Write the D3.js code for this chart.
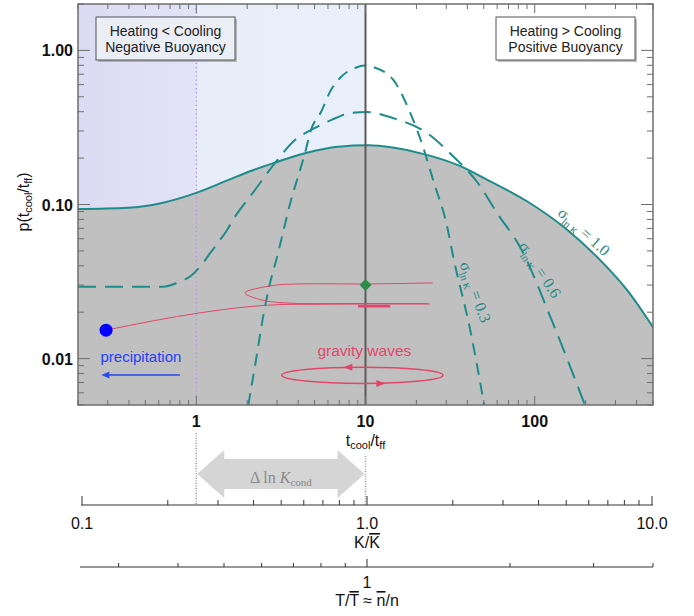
<!DOCTYPE html>
<html>
<head>
<meta charset="utf-8">
<script src="https://cdn.jsdelivr.net/npm/d3@7"></script>
<style>
  body { margin: 0; background: #fff; }
  text { font-family: "Liberation Sans", Arial, sans-serif; }
  .serif { font-family: "Liberation Serif", "DejaVu Serif", serif; }
</style>
</head>
<body>
<svg id="chart" width="694" height="616"></svg>
<script>
// --- data ---
// sigma_lnK = 1.0 (solid, filled)
const ratio10 = [0.2, 0.395, 0.618, 1.0, 1.54, 2.10, 2.92, 4.39, 6.88, 10.4, 14.5, 23.1, 36.1, 52.2, 90, 151, 243, 351, 500]
const prob10  = [0.0935, 0.0953, 0.102, 0.119, 0.144, 0.165, 0.187, 0.215, 0.237, 0.242, 0.234, 0.210, 0.178, 0.145, 0.105, 0.0704, 0.0437, 0.0279, 0.0160]
// sigma_lnK = 0.6 (long dashes)
const ratio06 = [0.2, 0.637, 0.769, 0.943, 1.05, 1.21, 1.52, 1.69, 2.22, 2.92, 3.83, 5.03, 6.26, 8.21, 10.2, 14.5, 23.1, 33.0, 45.7, 59.9, 81.9, 128, 198]
const prob06  = [0.0293, 0.0293, 0.0310, 0.0349, 0.0393, 0.0485, 0.0684, 0.0830, 0.124, 0.186, 0.262, 0.314, 0.353, 0.393, 0.398, 0.364, 0.291, 0.205, 0.140, 0.088, 0.053, 0.0170, 0.0050]
// sigma_lnK = 0.3 (short dashes)
const ratio03 = [2.03, 2.29, 2.48, 2.73, 3.00, 3.25, 3.63, 3.99, 4.39, 4.76, 5.46, 6.25, 7.16, 8.67, 10.3, 11.1, 14.6, 18.4, 21.9, 25.1, 30.4, 33.0, 41.6, 50.3]
const prob03  = [0.005, 0.0109, 0.0186, 0.0310, 0.0456, 0.0653, 0.107, 0.151, 0.216, 0.304, 0.398, 0.553, 0.672, 0.769, 0.80, 0.78, 0.643, 0.392, 0.236, 0.144, 0.0715, 0.0457, 0.0153, 0.005]
const sigmaLabels = ["1.0", "0.6", "0.3"]

// red trajectory: from the precipitation dot towards the loop
const trajRatio = [0.293, 1.05, 1.94, 3.58, 9.29, 24.0]
const trajProb  = [0.0153, 0.0198, 0.0216, 0.0225, 0.0226, 0.0226]
const loopRatio = [25.0, 10.2, 4.10, 2.84, 1.94, 2.44, 3.58, 9.29, 23.4]
const loopProb  = [0.0310, 0.0305, 0.0305, 0.0298, 0.0267, 0.0240, 0.0229, 0.0228, 0.0228]
const endRatio  = [9.03, 14.0]
const endProb   = [0.0219, 0.0219]

// markers
const precipPoint = [0.293, 0.0153]
const startPoint  = [10, 0.030]
const waveRatio   = [3.2, 28.7]     // horizontal extent of the gravity-wave ellipse
const waveProb    = [0.0069, 0.0088] // vertical extent

// axes
const xMajor = [1, 10, 100]
const xLabels = ["1", "10", "100"]
const yMajor = [0.01, 0.1, 1]
const yLabels = ["0.01", "0.10", "1.00"]
const kMajor = [0.1, 1, 10]
const kLabels = ["0.1", "1.0", "10.0"]
const tTicks = [0.3, 0.4, 0.5, 0.6, 0.7, 0.8, 0.9, 1, 2, 3, 4]

const teal = "#1e8c88"
const red = "#e0476a"
const blue = "#2a49f0"

var svg = d3.select("#chart")

var margin = { left: 78, right: 653, top: 4, bottom: 405 }
var x = d3.scaleLog().domain([0.2, 500]).range([margin.left, margin.right])
var y = d3.scaleLog().domain([0.005, 2]).range([margin.bottom, margin.top])

var defs = svg.append("defs")
defs.append("clipPath").attr("id", "plot-clip")
  .append("rect")
  .attr("x", margin.left).attr("y", margin.top)
  .attr("width", margin.right - margin.left).attr("height", margin.bottom - margin.top)

var grad = defs.append("linearGradient").attr("id", "cold-bg")
grad.append("stop").attr("offset", "0%").attr("stop-color", "#dcdbf4")
grad.append("stop").attr("offset", "41%").attr("stop-color", "#e3e3f7")
grad.append("stop").attr("offset", "42%").attr("stop-color", "#e7edf9")
grad.append("stop").attr("offset", "100%").attr("stop-color", "#e9f0fb")

var plot = svg.append("g").attr("clip-path", "url(#plot-clip)")

// cooling-dominated side
plot.append("rect")
  .attr("x", margin.left).attr("y", margin.top)
  .attr("width", x(10) - margin.left).attr("height", margin.bottom - margin.top)
  .attr("fill", "url(#cold-bg)")

var zip = (xs, ys) => xs.map((v, i) => [v, ys[i]])

var area = d3.area()
  .x(d => x(d[0])).y0(margin.bottom).y1(d => y(d[1]))
  .curve(d3.curveMonotoneX)
var line = d3.line()
  .x(d => x(d[0])).y(d => y(d[1]))
  .curve(d3.curveMonotoneX)

plot.append("path").datum(zip(ratio10, prob10))
  .attr("d", area).attr("fill", "#c0c0c0")

// t_cool/t_ff = 1 dotted marker
plot.append("line")
  .attr("x1", x(1)).attr("x2", x(1)).attr("y1", margin.top).attr("y2", margin.bottom)
  .attr("stroke", "#b38ee6").attr("stroke-width", 1.3).attr("stroke-dasharray", "1.2,3")

plot.append("path").datum(zip(ratio10, prob10))
  .attr("d", line).attr("fill", "none").attr("stroke", teal).attr("stroke-width", 2)
plot.append("path").datum(zip(ratio06, prob06))
  .attr("d", line).attr("fill", "none").attr("stroke", teal).attr("stroke-width", 2)
  .attr("stroke-dasharray", "18,9")
plot.append("path").datum(zip(ratio03, prob03))
  .attr("d", line).attr("fill", "none").attr("stroke", teal).attr("stroke-width", 2)
  .attr("stroke-dasharray", "12,8")

// t_cool/t_ff = 10 solid marker
plot.append("line")
  .attr("x1", x(10)).attr("x2", x(10)).attr("y1", margin.top).attr("y2", margin.bottom)
  .attr("stroke", "#5a5a5a").attr("stroke-width", 2)

// red trajectory
plot.append("path").datum(zip(trajRatio, trajProb))
  .attr("d", line).attr("fill", "none").attr("stroke", red).attr("stroke-width", 1)
plot.append("path").datum(zip(loopRatio, loopProb))
  .attr("d", d3.line().x(d => x(d[0])).y(d => y(d[1])).curve(d3.curveCatmullRom.alpha(0.5)))
  .attr("fill", "none").attr("stroke", red).attr("stroke-width", 1)
plot.append("path").datum(zip(endRatio, endProb))
  .attr("d", line).attr("fill", "none").attr("stroke", red).attr("stroke-width", 2.5)

plot.append("circle")
  .attr("cx", x(precipPoint[0])).attr("cy", y(precipPoint[1])).attr("r", 6.5)
  .attr("fill", "#0000ff")

var dx = x(startPoint[0]), dy = y(startPoint[1])
plot.append("path")
  .attr("d", `M${dx},${dy - 6} L${dx + 6},${dy} L${dx},${dy + 6} L${dx - 6},${dy} Z`)
  .attr("fill", "#2e8b4a")

// gravity waves ellipse
var ecx = (x(waveRatio[0]) + x(waveRatio[1])) / 2
var erx = (x(waveRatio[1]) - x(waveRatio[0])) / 2
var ecy = (y(waveProb[0]) + y(waveProb[1])) / 2
var ery = (y(waveProb[0]) - y(waveProb[1])) / 2
plot.append("ellipse")
  .attr("cx", ecx).attr("cy", ecy).attr("rx", erx).attr("ry", ery)
  .attr("fill", "none").attr("stroke", red).attr("stroke-width", 1.5)
var ax = ecx - 15, ay = ecy - ery
plot.append("path").attr("d", `M${ax - 4},${ay} L${ax + 5},${ay - 3.5} L${ax + 5},${ay + 3.5} Z`).attr("fill", red)
ax = ecx + 19; ay = ecy + ery
plot.append("path").attr("d", `M${ax + 4},${ay} L${ax - 5},${ay - 3.5} L${ax - 5},${ay + 3.5} Z`).attr("fill", red)

plot.append("text")
  .attr("x", ecx + 2).attr("y", y(0.0112) + 5)
  .attr("text-anchor", "middle").attr("font-size", 15.5).attr("fill", red)
  .text("gravity waves")

// precipitation annotation
plot.append("text")
  .attr("x", x(0.471)).attr("y", y(0.0102) + 5)
  .attr("text-anchor", "middle").attr("font-size", 15).attr("fill", "#2440ff")
  .text("precipitation")
var bx0 = x(0.80), bx1 = x(0.275), by = y(0.00783)
plot.append("line")
  .attr("x1", bx0).attr("x2", bx1 + 6).attr("y1", by).attr("y2", by)
  .attr("stroke", blue).attr("stroke-width", 1.5)
plot.append("path")
  .attr("d", `M${bx1},${by} L${bx1 + 8},${by - 3.5} L${bx1 + 8},${by + 3.5} Z`)
  .attr("fill", blue)

// sigma labels along the curves
var labelPos = [[195, 0.0665, 42], [107, 0.0376, 57], [44.4, 0.0270, 70]]
labelPos.forEach(function(p, i) {
  var t = plot.append("text").attr("class", "serif")
    .attr("transform", `translate(${x(p[0])},${y(p[1])}) rotate(${p[2]})`)
    .attr("text-anchor", "middle").attr("dy", 5)
    .attr("font-size", 16).attr("fill", teal)
  t.append("tspan").text("σ")
  t.append("tspan").attr("font-size", 11).attr("dy", 4).text("ln ")
  t.append("tspan").attr("font-size", 13).text("κ")
  t.append("tspan").attr("dy", -4).text(" = " + sigmaLabels[i])
})

// frame
svg.append("rect")
  .attr("x", margin.left).attr("y", margin.top)
  .attr("width", margin.right - margin.left).attr("height", margin.bottom - margin.top)
  .attr("fill", "none").attr("stroke", "#6e6e6e").attr("stroke-width", 1.5)

// ticks, all pointing inwards
var ticks = svg.append("g").attr("stroke", "#6e6e6e").attr("stroke-width", 1)
x.ticks().filter(v => v >= 0.2 && v <= 500).forEach(function(v) {
  var big = xMajor.indexOf(v) >= 0
  var len = big ? 9 : 5
  ticks.append("line").attr("x1", x(v)).attr("x2", x(v)).attr("y1", margin.bottom).attr("y2", margin.bottom - len)
  ticks.append("line").attr("x1", x(v)).attr("x2", x(v)).attr("y1", margin.top).attr("y2", margin.top + len)
})
y.ticks().forEach(function(v) {
  var big = yMajor.some(m => Math.abs(m - v) < 1e-9)
  var len = big ? 12 : 6
  ticks.append("line").attr("x1", margin.left).attr("x2", margin.left + len).attr("y1", y(v)).attr("y2", y(v))
  ticks.append("line").attr("x1", margin.right).attr("x2", margin.right - len).attr("y1", y(v)).attr("y2", y(v))
})

// tick labels
svg.selectAll(".xlab").data(xMajor).enter().append("text")
  .attr("x", d => x(d)).attr("y", 427)
  .attr("text-anchor", "middle").attr("font-size", 16).attr("font-weight", "bold").attr("fill", "#111")
  .text((d, i) => xLabels[i])
svg.selectAll(".ylab").data(yMajor).enter().append("text")
  .attr("x", 73).attr("y", d => y(d) + 6)
  .attr("text-anchor", "end").attr("font-size", 16).attr("font-weight", "bold").attr("fill", "#111")
  .text((d, i) => yLabels[i])

// axis titles
var xt = svg.append("text").attr("x", x(10)).attr("y", 446)
  .attr("text-anchor", "middle").attr("font-size", 16).attr("fill", "#111")
xt.append("tspan").text("t")
xt.append("tspan").attr("font-size", 11).attr("dy", 3).text("cool")
xt.append("tspan").attr("dy", -3).text("/t")
xt.append("tspan").attr("font-size", 11).attr("dy", 3).text("ff")

var yt = svg.append("text").attr("transform", "translate(29,202) rotate(-90)")
  .attr("text-anchor", "middle").attr("font-size", 16).attr("fill", "#111")
yt.append("tspan").text("p(t")
yt.append("tspan").attr("font-size", 11).attr("dy", 3).text("cool")
yt.append("tspan").attr("dy", -3).text("/t")
yt.append("tspan").attr("font-size", 11).attr("dy", 3).text("ff")
yt.append("tspan").attr("dy", -3).text(")")

// regime boxes
function regimeBox(x0, fill, lines) {
  svg.append("rect").attr("x", x0 + 2).attr("y", 19).attr("width", 139).attr("height", 43)
    .attr("fill", "#888").attr("opacity", 0.55)
  svg.append("rect").attr("x", x0).attr("y", 17).attr("width", 139).attr("height", 43)
    .attr("fill", fill).attr("stroke", "#555").attr("stroke-width", 1)
  lines.forEach(function(s, i) {
    svg.append("text").attr("x", x0 + 69.5).attr("y", 36 + i * 16)
      .attr("text-anchor", "middle").attr("font-size", 14).attr("fill", "#222").text(s)
  })
}
regimeBox(96, "#eceef5", ["Heating < Cooling", "Negative Buoyancy"])
regimeBox(496, "#ffffff", ["Heating > Cooling", "Positive Buoyancy"])

// --- lower panel: Delta ln K_cond and the K and T axes ---
var kScale = d3.scaleLog().domain([0.1, 10]).range([82, 652])
var tScale = d3.scaleLog().domain([0.2512, 3.981]).range([82, 652])
var kAxisY = 505, tAxisY = 567

svg.append("line").attr("x1", x(1)).attr("x2", x(1)).attr("y1", 433).attr("y2", kAxisY)
  .attr("stroke", "#999").attr("stroke-width", 1.5).attr("stroke-dasharray", "1,1.5")
svg.append("line").attr("x1", x(10)).attr("x2", x(10)).attr("y1", 456).attr("y2", kAxisY)
  .attr("stroke", "#999").attr("stroke-width", 1.5).attr("stroke-dasharray", "1,1.5")

var a0 = x(1) + 1, a1 = x(10) - 1, acy = 474, hl = 27, hh = 24, bh = 15
svg.append("path")
  .attr("d", `M${a0},${acy} L${a0 + hl},${acy - hh} L${a0 + hl},${acy - bh} L${a1 - hl},${acy - bh} L${a1 - hl},${acy - hh} L${a1},${acy} L${a1 - hl},${acy + hh} L${a1 - hl},${acy + bh} L${a0 + hl},${acy + bh} L${a0 + hl},${acy + hh} Z`)
  .attr("fill", "#d5d5d5")
var dk = svg.append("text").attr("class", "serif").attr("x", (a0 + a1) / 2).attr("y", 483)
  .attr("text-anchor", "middle").attr("font-size", 16).attr("fill", "#8a8a8a")
dk.append("tspan").text("Δ ln ")
dk.append("tspan").attr("font-style", "italic").text("K")
dk.append("tspan").attr("font-size", 11).attr("dy", 3).text("cond")

var low = svg.append("g").attr("stroke", "#333").attr("stroke-width", 1)
low.append("line").attr("x1", 81).attr("x2", 653).attr("y1", kAxisY).attr("y2", kAxisY)
kScale.ticks().forEach(function(v) {
  var big = kMajor.some(m => Math.abs(m - v) < 1e-9)
  low.append("line").attr("x1", kScale(v)).attr("x2", kScale(v))
    .attr("y1", kAxisY).attr("y2", kAxisY - (big ? 9 : 5))
})
low.append("line").attr("x1", 80).attr("x2", 653).attr("y1", tAxisY).attr("y2", tAxisY)
tTicks.forEach(function(v) {
  low.append("line").attr("x1", tScale(v)).attr("x2", tScale(v))
    .attr("y1", tAxisY).attr("y2", tAxisY - (v === 1 ? 8 : 4))
})

svg.selectAll(".klab").data(kMajor).enter().append("text")
  .attr("x", d => kScale(d)).attr("y", 529)
  .attr("text-anchor", "middle").attr("font-size", 16).attr("fill", "#111")
  .text((d, i) => kLabels[i])
var kt = svg.append("text").attr("x", kScale(1)).attr("y", 548)
  .attr("text-anchor", "middle").attr("font-size", 16).attr("fill", "#111")
kt.append("tspan").text("K/")
kt.append("tspan").attr("text-decoration", "overline").text("K")

svg.append("text").attr("x", tScale(1)).attr("y", 588)
  .attr("text-anchor", "middle").attr("font-size", 16).attr("fill", "#111").text("1")
var tt = svg.append("text").attr("x", tScale(1)).attr("y", 606)
  .attr("text-anchor", "middle").attr("font-size", 16).attr("fill", "#111")
tt.append("tspan").text("T/")
tt.append("tspan").attr("text-decoration", "overline").text("T")
tt.append("tspan").text(" ≈ ")
tt.append("tspan").attr("text-decoration", "overline").text("n")
tt.append("tspan").text("/n")
</script>
</body>
</html>
